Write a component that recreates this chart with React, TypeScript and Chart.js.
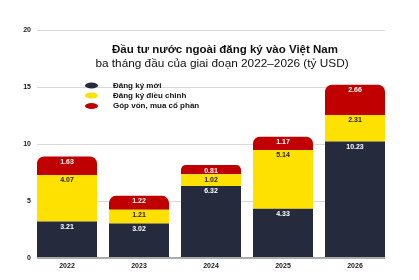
import React, { useEffect, useRef } from "react";
import { Chart, registerables } from "chart.js";

Chart.register(...registerables);

const categories = ["2022", "2023", "2024", "2025", "2026"];
const newReg = [3.21, 3.02, 6.32, 4.33, 10.23];
const adjusted = [4.07, 1.21, 1.02, 5.14, 2.31];
const capital = [1.63, 1.22, 0.81, 1.17, 2.66];
const seriesNames = ["Đăng ký mới", "Đăng ký điều chỉnh", "Góp vốn, mua cổ phần"];
const titleText = "Đầu tư nước ngoài đăng ký vào Việt Nam";
const subtitleText = "ba tháng đầu của giai đoạn 2022–2026 (tỷ USD)";

const NAVY = "#262a3d";
const YELLOW = "#ffe100";
const RED = "#c00000";
const FONT = "'Liberation Sans', Arial, sans-serif";
const GRID_INSET = 6;

const overlayPlugin = {
  id: "overlay",
  beforeDatasetsDraw(chart: any) {
    const ctx = chart.ctx;
    const y = chart.scales.y;
    const a = chart.chartArea;
    const x0 = a.left + GRID_INSET;
    const x1 = a.right - GRID_INSET;
    ctx.save();
    y.ticks.forEach((t: any) => {
      if (t.value === 0) return;
      const py = Math.round(y.getPixelForValue(t.value)) + 0.5;
      ctx.strokeStyle = "#d9d9d9";
      ctx.lineWidth = 1;
      ctx.beginPath();
      ctx.moveTo(x0, py);
      ctx.lineTo(x1, py);
      ctx.stroke();
    });
    ctx.restore();
  },
  afterDatasetsDraw(chart: any) {
    const ctx = chart.ctx;
    const y = chart.scales.y;
    const a = chart.chartArea;
    ctx.save();
    const py = y.getPixelForValue(0);
    ctx.strokeStyle = "#aaaaaa";
    ctx.lineWidth = 2;
    ctx.beginPath();
    ctx.moveTo(a.left + GRID_INSET, py);
    ctx.lineTo(a.right - GRID_INSET, py);
    ctx.stroke();

    ctx.font = `bold 7px ${FONT}`;
    ctx.textAlign = "center";
    ctx.textBaseline = "middle";
    chart.data.datasets.forEach((ds: any, di: number) => {
      const meta = chart.getDatasetMeta(di);
      meta.data.forEach((el: any, i: number) => {
        ctx.fillStyle = di === 1 ? "#222222" : "#ffffff";
        ctx.fillText(ds.data[i].toFixed(2), el.x, el.y + 5.5);
      });
    });
    ctx.restore();
  },
  afterDraw(chart: any) {
    const ctx = chart.ctx;
    ctx.save();
    ctx.textAlign = "center";
    ctx.textBaseline = "middle";
    ctx.fillStyle = "#111111";
    ctx.font = `bold 11.5px ${FONT}`;
    ctx.fillText(titleText, 225, 50);
    ctx.font = `11.8px ${FONT}`;
    ctx.fillText(subtitleText, 222, 63.5);
    const colors = [NAVY, YELLOW, RED];
    const ys = [85.5, 95.5, 106];
    ctx.textAlign = "left";
    ctx.font = `bold 8px ${FONT}`;
    seriesNames.forEach((name, i) => {
      ctx.fillStyle = colors[i];
      ctx.beginPath();
      ctx.ellipse(91.5, ys[i], 6.5, 3, 0, 0, Math.PI * 2);
      ctx.fill();
      ctx.fillStyle = "#111111";
      ctx.fillText(name, 113, ys[i]);
    });
    ctx.restore();
  },
};

export default function App() {
  const ref = useRef<HTMLCanvasElement>(null);
  useEffect(() => {
    document.body.style.margin = "0";
    const chart = new Chart(ref.current!, {
      type: "bar",
      data: {
        labels: categories,
        datasets: [
          { label: seriesNames[0], data: newReg, backgroundColor: NAVY, borderRadius: 7 },
          { label: seriesNames[1], data: adjusted, backgroundColor: YELLOW, borderRadius: 7 },
          { label: seriesNames[2], data: capital, backgroundColor: RED, borderRadius: 7 },
        ],
      },
      options: {
        responsive: false,
        animation: false,
        events: [],
        layout: { padding: { top: 30, right: 28, left: 0, bottom: 0 } },
        datasets: { bar: { barPercentage: 60 / 72, categoryPercentage: 1 } },
        plugins: { legend: { display: false }, tooltip: { enabled: false }, title: { display: false } },
        scales: {
          x: {
            stacked: true,
            grid: { display: false, drawTicks: false },
            border: { display: false },
            ticks: { padding: 4, color: "#222222", font: { family: FONT, size: 7, weight: "bold" } },
            afterFit: (s: any) => { s.height = 22; },
          },
          y: {
            stacked: true,
            min: 0,
            max: 20,
            ticks: { stepSize: 5, padding: 0, color: "#222222", font: { family: FONT, size: 7, weight: "bold" } },
            grid: { display: false, drawTicks: false },
            border: { display: false },
            afterFit: (s: any) => { s.width = 31; },
          },
        },
      },
      plugins: [overlayPlugin],
    });
    return () => chart.destroy();
  }, []);
  return (
    <div style={{ position: "absolute", left: 0, top: 0, width: 419, height: 280, background: "#fff" }}>
      <canvas ref={ref} width={419} height={280} />
    </div>
  );
}
